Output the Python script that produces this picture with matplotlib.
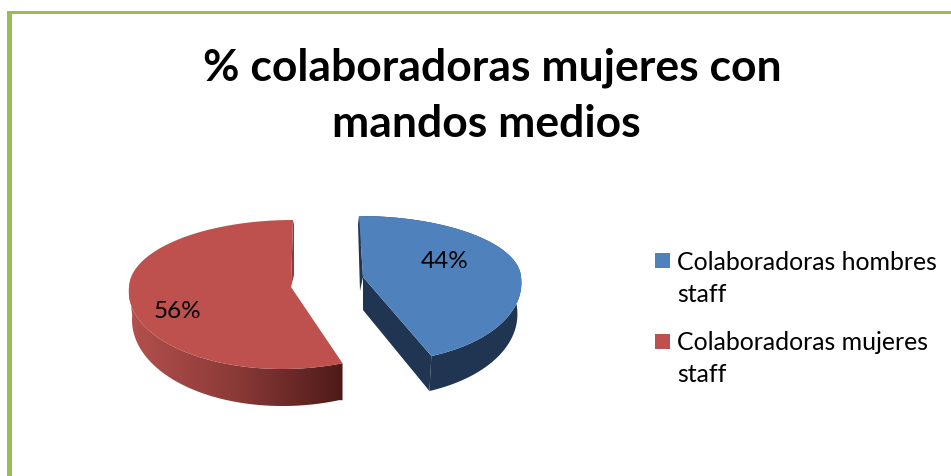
import numpy as np
import matplotlib
matplotlib.use("Agg")
import matplotlib.pyplot as plt
from matplotlib.patches import Polygon, Rectangle
from matplotlib.colors import LinearSegmentedColormap

title_lines = ["% colaboradoras mujeres con", "mandos medios"]
categories = ["Colaboradoras hombres\nstaff", "Colaboradoras mujeres\nstaff"]
shares = [44, 56]

W, H = 951, 476
FONT = "Lato"
BLUE, RED = "#4F81BD", "#BE504D"
BLUE_WALL = "#1F3552"
RED_SLIVER = "#8E3A38"
GREEN = "#9BBB59"

fig = plt.figure(figsize=(W / 100, H / 100), dpi=100, facecolor="white")
ax = fig.add_axes([0, 0, 1, 1])
ax.set_xlim(0, W)
ax.set_ylim(H, 0)
ax.axis("off")

# Chart border: only the top and left strokes fall inside the canvas
ax.add_patch(Rectangle((7, 11), W - 7, 3, fc=GREEN, ec="none"))
ax.add_patch(Rectangle((7, 11), 5, H - 11, fc=GREEN, ec="none"))


def project(theta, apex, a, far_b, near_b, far_shear, near_shear):
    """Top-face outline of a tilted pie; theta is clockwise from 12 o'clock."""
    u, v = np.sin(theta), np.cos(theta)
    far = v >= 0
    x = apex[0] + a * u + np.where(far, far_shear * v, near_shear * v)
    y = apex[1] - np.where(far, far_b * v, near_b * v)
    return x, y


def lower(x, y, apex, drop, x_scale, y_scale):
    """Matching outline of the pie's underside."""
    return apex[0] + (x - apex[0]) * x_scale, apex[1] + drop + (y - apex[1]) * y_scale


boundaries = np.radians(np.cumsum([0] + shares) * 3.6)

# Hombres wedge
apex = (363, 277)
t = np.linspace(boundaries[0], boundaries[1], 160)
x, y = project(t, apex, 158, 61, 85, -4, -11)
xb, yb = lower(x, y, apex, 31, 0.975, 1.05)
xb[-1] = x[-1] - 2
wall = np.r_[np.c_[x, y], np.c_[xb, yb][::-1]]
ax.add_patch(Polygon(wall, fc=BLUE_WALL, ec="none", zorder=2))
ax.add_patch(Polygon([(x[-1], y[-1]), apex, (apex[0], apex[1] + 33), (xb[-1], yb[-1])],
                     fc=BLUE_WALL, ec="none", zorder=2))
ax.add_patch(Polygon([(x[0], y[0]), (x[0] - 1, y[0] + 8), (apex[0] - 3, apex[1] + 14), apex],
                     fc=BLUE_WALL, ec="none", zorder=2))
ax.add_patch(Polygon(np.r_[np.c_[x, y], [apex]], fc=BLUE, ec="none", zorder=3))

# Mujeres wedge
apex = (291, 287)
t = np.linspace(boundaries[1], boundaries[2], 220)
x, y = project(t, apex, 162, 67, 82, 2, 8.7)
xb, yb = lower(x, y, apex, 28, 0.98, 1.11)
xb[0] = x[0]
yb[0] = y[0] + 37
near = y >= apex[1]
wall = np.r_[np.c_[x[near], y[near]], np.c_[xb[near], yb[near]][::-1]]
shade = LinearSegmentedColormap.from_list("wall", ["#B5504D", "#8A3A37", "#4E1B19"])
image = ax.imshow(np.linspace(0, 1, 256)[None, :], cmap=shade, aspect="auto",
                  extent=(wall[:, 0].min(), wall[:, 0].max(), wall[:, 1].max(), wall[:, 1].min()),
                  zorder=2)
clip = Polygon(wall, fc="none", ec="none", transform=ax.transData)
ax.add_patch(clip)
image.set_clip_path(clip)
ax.set_xlim(0, W)
ax.set_ylim(H, 0)
ax.add_patch(Polygon([(x[-1], y[-1]), (x[-1] + 1, y[-1] + 5), (apex[0] + 3, apex[1] - 12), apex],
                     fc=RED_SLIVER, ec="none", zorder=2))
ax.add_patch(Polygon(np.r_[np.c_[x, y], [apex]], fc=RED, ec="none", zorder=3))

# Percentage labels
for share, (lx, ly) in zip(shares, [(445, 261), (177, 312)]):
    ax.text(lx, ly, f"{share}%", fontsize=17.5, family=FONT, ha="center", va="center",
            color="black", zorder=4)

# Title
for line, cx, baseline in zip(title_lines, [492, 486.5], [80, 137]):
    ax.text(cx, baseline, line, fontsize=32, fontweight="bold", family=FONT,
            ha="center", va="baseline", color="black")

# Legend
for label, color, top, baseline in zip(categories, [BLUE, RED], [253, 334], [269.5, 350]):
    ax.add_patch(Rectangle((655, top), 15, 15, fc=color, ec="none"))
    first, second = label.split("\n")
    ax.text(677, baseline, first, fontsize=17.9, family=FONT, va="baseline", color="black")
    ax.text(677, baseline + 32, second, fontsize=17.9, family=FONT, va="baseline", color="black")

fig.savefig("out.png", dpi=100, facecolor="white")
